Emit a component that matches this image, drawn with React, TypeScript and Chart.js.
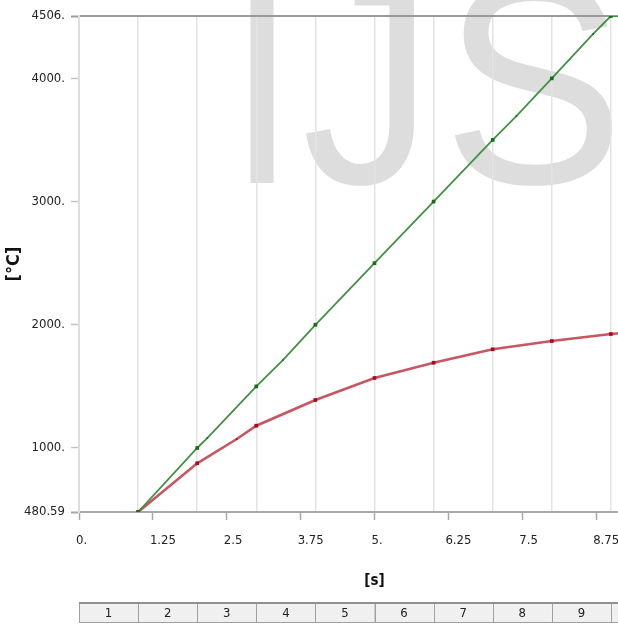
import React, { useEffect, useRef } from "react";
import { Chart, registerables } from "chart.js";

Chart.register(...registerables);

// ---- data ----
const stepTimes = [1, 2, 3, 4, 5, 6, 7, 8, 9, 10];
const appliedTemp = [480.59, 1000, 1500, 2000, 2500, 3000, 3500, 4000, 4506, 4506];
const responseTemp = [480.59, 876, 1181, 1390, 1568, 1692, 1801, 1868, 1925, 1965];
const appliedSubTimes = [2.17, 3.45, 7.4, 8.7];
const appliedSubTemp = [1081, 1714, 3694, 4360];
const responseSubTimes = [2.67];
const responseSubTemp = [1073];

const xTickValues = [0, 1.25, 2.5, 3.75, 5, 6.25, 7.5, 8.75, 10];
const xTickLabels = ["0.", "1.25", "2.5", "3.75", "5.", "6.25", "7.5", "8.75", "10."];
const yTickValues = [480.59, 1000, 2000, 3000, 4000, 4506];
const yTickLabels = ["480.59", "1000.", "2000.", "3000.", "4000.", "4506."];
const gridTimes = [0, 1, 2, 3, 4, 5, 6, 7, 8, 9, 10];
const tableLabels = ["1", "2", "3", "4", "5", "6", "7", "8", "9", "10"];
const xTitle = "[s]";
const yTitle = "[°C]";
const watermarkLetters = ["I", "J", "S"];

const X_MIN = 0;
const X_MAX = 10;
const Y_MIN = 480.59;
const Y_MAX = 4506;

const FONT = "'DejaVu Sans Condensed', 'Liberation Sans Narrow', 'DejaVu Sans', sans-serif";

function merge(t: number[], v: number[], st: number[], sv: number[]) {
  const pts = t.map((x, i) => ({ x, y: v[i] }));
  st.forEach((x, i) => pts.push({ x, y: sv[i] }));
  return pts.sort((a, b) => a.x - b.x);
}

const watermarkPlugin = {
  id: "watermark",
  beforeDraw(chart: any) {
    const ctx = chart.ctx;
    ctx.save();
    ctx.font = "290px 'Liberation Sans', Arial, sans-serif";
    ctx.fillStyle = "rgba(150,150,150,0.32)";
    ctx.textBaseline = "alphabetic";
    ctx.textAlign = "left";
    const boxes = [
      [247, 27],
      [306, 111],
      [451, 162],
    ];
    watermarkLetters.forEach((ch, i) => {
      const m = ctx.measureText(ch);
      const ink = m.actualBoundingBoxLeft + m.actualBoundingBoxRight;
      const sx = ink > 0 ? boxes[i][1] / ink : 1;
      ctx.save();
      ctx.translate(boxes[i][0], 183);
      ctx.scale(sx, 1);
      ctx.fillText(ch, m.actualBoundingBoxLeft, 0);
      ctx.restore();
    });
    ctx.restore();
  },
};

const tablePlugin = {
  id: "stepTable",
  afterDraw(chart: any) {
    const ctx = chart.ctx;
    const xs = chart.scales.x;
    const top = chart.chartArea.bottom + 91;
    const h = 19;
    ctx.save();
    ctx.font = "13px " + FONT;
    ctx.textAlign = "center";
    ctx.textBaseline = "middle";
    tableLabels.forEach((lab, i) => {
      const x0 = xs.getPixelForValue(i);
      const x1 = xs.getPixelForValue(i + 1);
      ctx.fillStyle = "#f0f0f0";
      ctx.fillRect(x0, top, x1 - x0, h);
      ctx.strokeStyle = "#a0a0a0";
      ctx.lineWidth = 1;
      ctx.strokeRect(Math.round(x0) + 0.5, top + 0.5, x1 - x0, h);
      ctx.fillStyle = "#222";
      ctx.fillText(lab, (x0 + x1) / 2, top + h / 2 + 1);
    });
    ctx.strokeStyle = "#909090";
    ctx.lineWidth = 2;
    ctx.beginPath();
    ctx.moveTo(xs.getPixelForValue(0), top);
    ctx.lineTo(xs.getPixelForValue(10), top);
    ctx.stroke();
    ctx.restore();
  },
};

export default function App() {
  const ref = useRef<HTMLCanvasElement>(null);

  useEffect(() => {
    if (!ref.current) return;
    const isMajor = (c: any) => Number.isInteger(c.raw?.x);
    const chart = new Chart(ref.current, {
      type: "line",
      data: {
        datasets: [
          {
            label: "Applied",
            data: merge(stepTimes, appliedTemp, appliedSubTimes, appliedSubTemp),
            borderColor: "rgb(66,145,66)",
            borderWidth: 1.8,
            backgroundColor: "rgb(20,110,30)",
            pointBackgroundColor: "rgb(20,110,30)",
            pointBorderColor: "rgb(20,110,30)",
            pointStyle: "rect",
            pointRadius: (c: any) => (isMajor(c) ? 2.6 : 1.2),
            pointBorderWidth: 0,
            tension: 0,
          },
          {
            label: "Response",
            data: merge(stepTimes, responseTemp, responseSubTimes, responseSubTemp),
            borderColor: "rgb(200,86,98)",
            borderWidth: 2.6,
            backgroundColor: "rgb(170,10,30)",
            pointBackgroundColor: "rgb(170,10,30)",
            pointBorderColor: "rgb(170,10,30)",
            pointStyle: "rect",
            pointRadius: (c: any) => (isMajor(c) ? 2.6 : 1.2),
            pointBorderWidth: 0,
            tension: 0,
          },
        ],
      },
      options: {
        responsive: false,
        animation: false,
        layout: { padding: { top: 16, left: 0, right: 10, bottom: 0 } },
        plugins: { legend: { display: false }, tooltip: { enabled: false } },
        scales: {
          x: {
            type: "linear",
            position: "bottom",
            min: X_MIN,
            max: X_MAX,
            afterBuildTicks: (s: any) => {
              s.ticks = xTickValues.map((value) => ({ value }));
            },
            afterFit: (s: any) => {
              s.height = 114;
              s.paddingLeft = 0;
              s.paddingRight = 0;
            },
            ticks: {
              autoSkip: false,
              maxRotation: 0,
              align: "start",
              labelOffset: -3,
              padding: 13,
              color: "#222",
              font: { size: 13, family: FONT },
              callback: (_v: any, i: number) => xTickLabels[i],
            },
            grid: {
              drawOnChartArea: false,
              drawTicks: true,
              tickLength: 8,
              tickColor: "#a8a8a8",
              tickWidth: 1.5,
            },
            border: { display: true, color: "#a8a8a8", width: 2 },
            title: {
              display: true,
              text: xTitle,
              color: "#111",
              font: { size: 15, weight: "bold", family: FONT },
              padding: { top: 0, bottom: 36 },
            },
          },
          x2: {
            type: "linear",
            position: "top",
            min: X_MIN,
            max: X_MAX,
            afterBuildTicks: (s: any) => {
              s.ticks = gridTimes.map((value) => ({ value }));
            },
            afterFit: (s: any) => {
              s.height = 0;
              s.paddingLeft = 0;
              s.paddingRight = 0;
            },
            ticks: { display: false },
            grid: {
              drawOnChartArea: true,
              drawTicks: false,
              color: "#e3e3e3",
              lineWidth: 1.5,
            },
            border: { display: true, color: "#9a9a9a", width: 2 },
          },
          y: {
            type: "linear",
            position: "left",
            min: Y_MIN,
            max: Y_MAX,
            afterBuildTicks: (s: any) => {
              s.ticks = yTickValues.map((value) => ({ value }));
            },
            afterFit: (s: any) => {
              s.width = 79;
              s.paddingTop = 0;
              s.paddingBottom = 0;
            },
            ticks: {
              autoSkip: false,
              padding: 6,
              color: "#222",
              font: { size: 13, family: FONT },
              callback: (_v: any, i: number) => yTickLabels[i],
            },
            grid: {
              drawOnChartArea: false,
              drawTicks: true,
              tickLength: 8,
              tickColor: (c: any) =>
                c.tick && c.tick.value === Y_MAX
                  ? "#9a9a9a"
                  : c.tick && c.tick.value === Y_MIN
                  ? "#a8a8a8"
                  : "#c4c4c4",
              tickWidth: (c: any) =>
                c.tick && (c.tick.value === Y_MAX || c.tick.value === Y_MIN) ? 2 : 1.5,
            },
            border: { display: true, color: "#dedede", width: 2 },
            title: {
              display: true,
              text: yTitle,
              color: "#111",
              font: { size: 18, weight: "bold", family: FONT },
              padding: { top: 4, bottom: 0 },
            },
          },
        },
      } as any,
      plugins: [watermarkPlugin, tablePlugin],
    });
    return () => chart.destroy();
  }, []);

  return (
    <div style={{ position: "fixed", left: 0, top: 0, width: 680, height: 626, background: "#fff" }}>
      <canvas ref={ref} width={680} height={626} style={{ display: "block" }} />
    </div>
  );
}
